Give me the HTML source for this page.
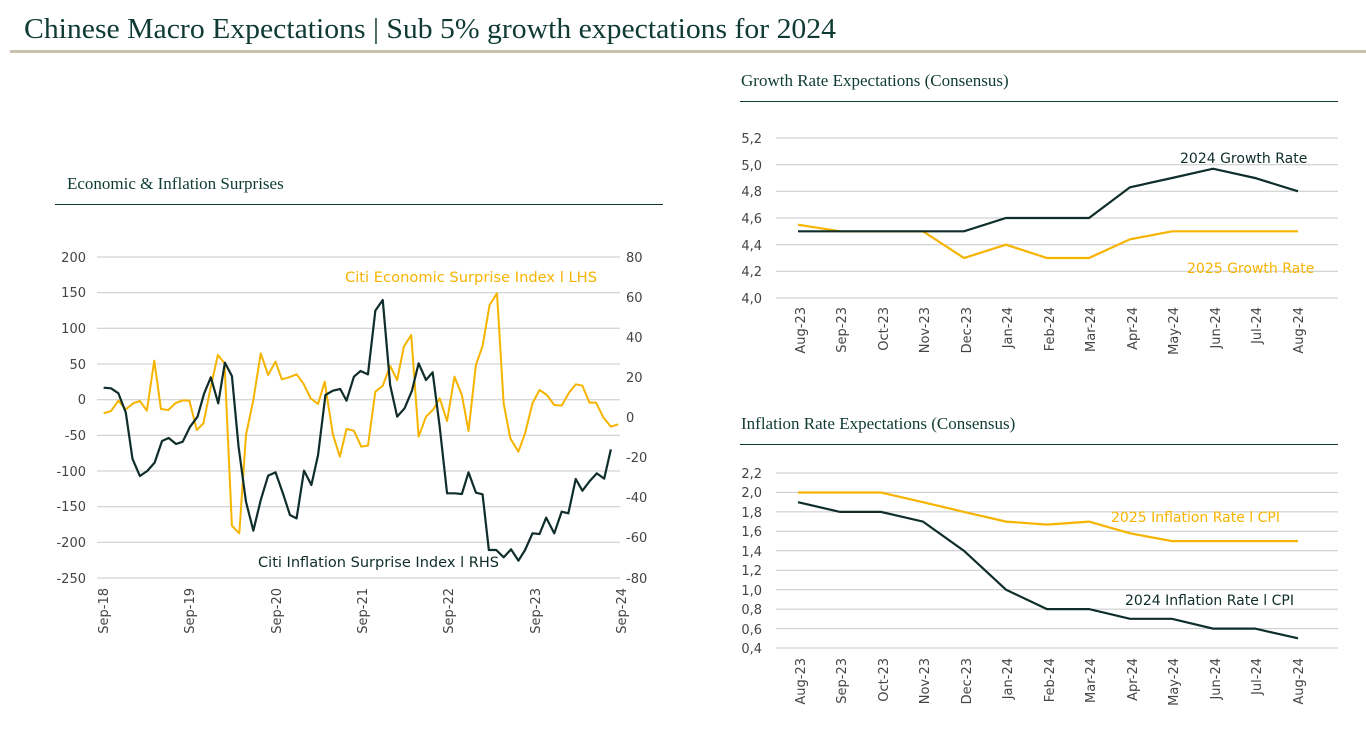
<!DOCTYPE html>
<html><head><meta charset="utf-8"><style>
body{margin:0;background:#fff;width:1366px;height:737px;overflow:hidden}
svg text{font-family:"DejaVu Sans","Liberation Sans",sans-serif}
</style></head><body>
<svg width="1366" height="737" xmlns="http://www.w3.org/2000/svg">
<text x="24" y="38" font-size="28" fill="#0f3b34" style="font-family:'Liberation Serif',serif" textLength="812" lengthAdjust="spacingAndGlyphs">Chinese Macro Expectations | Sub 5% growth expectations for 2024</text>
<rect x="10" y="50" width="1356" height="3" fill="#c9c1ae"/>
<text x="741" y="86" font-size="17" fill="#0f3b34" style="font-family:'Liberation Serif',serif">Growth Rate Expectations (Consensus)</text>
<rect x="740" y="101" width="598" height="1" fill="#0f3b34"/>
<text x="67" y="189" font-size="17" fill="#0f3b34" style="font-family:'Liberation Serif',serif">Economic &amp; Inflation Surprises</text>
<rect x="55" y="204" width="608" height="1" fill="#0f3b34"/>
<text x="741" y="429" font-size="17" fill="#0f3b34" style="font-family:'Liberation Serif',serif">Inflation Rate Expectations (Consensus)</text>
<rect x="740" y="444" width="598" height="1" fill="#0f3b34"/>

<!-- left chart -->
<g stroke="#c8c8c8" stroke-width="1">
<line x1="97" x2="620" y1="257" y2="257"/><line x1="97" x2="620" y1="292.7" y2="292.7"/>
<line x1="97" x2="620" y1="328.3" y2="328.3"/><line x1="97" x2="620" y1="364" y2="364"/>
<line x1="97" x2="620" y1="399.7" y2="399.7"/><line x1="97" x2="620" y1="435.3" y2="435.3"/>
<line x1="97" x2="620" y1="471" y2="471"/><line x1="97" x2="620" y1="506.7" y2="506.7"/>
<line x1="97" x2="620" y1="542.3" y2="542.3"/><line x1="97" x2="620" y1="578" y2="578"/>
</g>
<g font-size="13" fill="#444" text-anchor="end">
<text x="86" y="262">200</text><text x="86" y="297">150</text><text x="86" y="333">100</text>
<text x="86" y="369">50</text><text x="86" y="404">0</text><text x="86" y="440">-50</text>
<text x="86" y="476">-100</text><text x="86" y="511">-150</text><text x="86" y="547">-200</text><text x="86" y="583">-250</text>
</g>
<g font-size="13" fill="#444">
<text x="626" y="262">80</text><text x="626" y="302">60</text><text x="626" y="342">40</text>
<text x="626" y="382">20</text><text x="626" y="422">0</text><text x="626" y="462">-20</text>
<text x="626" y="502">-40</text><text x="626" y="542">-60</text><text x="626" y="583">-80</text>
</g>
<g font-size="13" fill="#444" text-anchor="end">
<text transform="translate(108,588) rotate(-90)">Sep-18</text>
<text transform="translate(194,588) rotate(-90)">Sep-19</text>
<text transform="translate(281,588) rotate(-90)">Sep-20</text>
<text transform="translate(367,588) rotate(-90)">Sep-21</text>
<text transform="translate(453,588) rotate(-90)">Sep-22</text>
<text transform="translate(540,588) rotate(-90)">Sep-23</text>
<text transform="translate(626,588) rotate(-90)">Sep-24</text>
</g>
<g transform="translate(60,240) scale(0.3697,0.33333)" fill="none" stroke-linejoin="round">
<polyline stroke="#f6b400" stroke-width="2" vector-effect="non-scaling-stroke" points="118,520 138,513 158,482 178,508 198,490 216,483 235,512 255,362 273,507 293,510 313,489 333,481 350,482 370,570 388,550 408,440 427,345 445,370 465,857 485,880 503,585 523,480 543,340 563,405 583,365 600,418 620,412 640,403 658,430 678,475 698,492 716,425 738,583 757,650 775,567 795,572 815,620 833,617 853,455 873,437 893,378 912,420 930,320 950,285 970,590 990,530 1010,508 1027,475 1047,543 1067,410 1087,465 1105,573 1125,375 1143,318 1162,195 1182,160 1200,490 1218,595 1240,635 1258,580 1278,490 1297,450 1317,465 1337,495 1357,497 1377,458 1395,433 1413,437 1432,488 1450,488 1470,533 1490,560 1510,553"/>
<polyline stroke="#0f2d2a" stroke-width="2.2" vector-effect="non-scaling-stroke" points="118,443 138,445 158,460 178,518 196,656 216,708 236,693 256,668 276,603 294,594 314,612 332,605 352,560 372,530 390,460 408,412 428,490 446,368 465,408 483,620 503,785 523,872 543,780 563,707 583,697 603,760 622,825 640,835 660,692 680,735 698,645 718,465 738,452 758,447 775,482 795,410 813,393 833,403 853,212 873,180 893,435 912,530 932,505 952,452 970,370 990,420 1008,397 1027,560 1047,760 1067,760 1087,762 1105,697 1125,758 1143,763 1160,930 1180,930 1200,952 1220,928 1240,962 1258,930 1278,880 1297,882 1315,833 1337,880 1357,815 1375,820 1395,717 1413,752 1433,723 1452,700 1472,716 1490,628"/>
</g>
<text x="345" y="282" font-size="14" fill="#f6b400" textLength="252" lengthAdjust="spacingAndGlyphs">Citi Economic Surprise Index l LHS</text>
<text x="258" y="567" font-size="14" fill="#0f2d2a" textLength="241" lengthAdjust="spacingAndGlyphs">Citi Inflation Surprise Index l RHS</text>

<!-- top right chart -->
<g stroke="#c8c8c8" stroke-width="1">
<line x1="776" x2="1338" y1="138" y2="138"/><line x1="776" x2="1338" y1="164.7" y2="164.7"/>
<line x1="776" x2="1338" y1="191.3" y2="191.3"/><line x1="776" x2="1338" y1="218" y2="218"/>
<line x1="776" x2="1338" y1="244.7" y2="244.7"/><line x1="776" x2="1338" y1="271.3" y2="271.3"/>
<line x1="776" x2="1338" y1="298" y2="298"/>
</g>
<g font-size="13" fill="#444" text-anchor="end">
<text x="762" y="143">5,2</text><text x="762" y="170">5,0</text><text x="762" y="196">4,8</text>
<text x="762" y="223">4,6</text><text x="762" y="250">4,4</text><text x="762" y="276">4,2</text><text x="762" y="303">4,0</text>
</g>
<g font-size="13" fill="#444" text-anchor="end">
<text transform="translate(805,307) rotate(-90)">Aug-23</text>
<text transform="translate(846,307) rotate(-90)">Sep-23</text>
<text transform="translate(888,307) rotate(-90)">Oct-23</text>
<text transform="translate(929,307) rotate(-90)">Nov-23</text>
<text transform="translate(971,307) rotate(-90)">Dec-23</text>
<text transform="translate(1012,307) rotate(-90)">Jan-24</text>
<text transform="translate(1054,307) rotate(-90)">Feb-24</text>
<text transform="translate(1095,307) rotate(-90)">Mar-24</text>
<text transform="translate(1137,307) rotate(-90)">Apr-24</text>
<text transform="translate(1178,307) rotate(-90)">May-24</text>
<text transform="translate(1220,307) rotate(-90)">Jun-24</text>
<text transform="translate(1261,307) rotate(-90)">Jul-24</text>
<text transform="translate(1303,307) rotate(-90)">Aug-24</text>
</g>
<polyline fill="none" stroke="#f6b400" stroke-width="2.2" points="798,224.7 840,231.3 881,231.3 923,231.3 964,258 1006,244.7 1047,258 1089,258 1130,239.3 1172,231.3 1213,231.3 1255,231.3 1298,231.3"/>
<polyline fill="none" stroke="#0f2d2a" stroke-width="2.2" points="798,231.3 840,231.3 881,231.3 923,231.3 964,231.3 1006,218 1047,218 1089,218 1130,187.3 1172,178 1213,168.7 1255,178 1298,191.3"/>
<text x="1180" y="163" font-size="14" fill="#0f2d2a">2024 Growth Rate</text>
<text x="1187" y="273" font-size="14" fill="#f6b400">2025 Growth Rate</text>

<!-- bottom right chart -->
<g stroke="#c8c8c8" stroke-width="1">
<line x1="776" x2="1338" y1="473" y2="473"/><line x1="776" x2="1338" y1="492.4" y2="492.4"/>
<line x1="776" x2="1338" y1="511.9" y2="511.9"/><line x1="776" x2="1338" y1="531.3" y2="531.3"/>
<line x1="776" x2="1338" y1="550.8" y2="550.8"/><line x1="776" x2="1338" y1="570.2" y2="570.2"/>
<line x1="776" x2="1338" y1="589.7" y2="589.7"/><line x1="776" x2="1338" y1="609.1" y2="609.1"/>
<line x1="776" x2="1338" y1="628.6" y2="628.6"/><line x1="776" x2="1338" y1="648" y2="648"/>
</g>
<g font-size="13" fill="#444" text-anchor="end">
<text x="762" y="478">2,2</text><text x="762" y="497">2,0</text><text x="762" y="517">1,8</text>
<text x="762" y="536">1,6</text><text x="762" y="556">1,4</text><text x="762" y="575">1,2</text>
<text x="762" y="595">1,0</text><text x="762" y="614">0,8</text><text x="762" y="634">0,6</text><text x="762" y="653">0,4</text>
</g>
<g font-size="13" fill="#444" text-anchor="end">
<text transform="translate(805,658) rotate(-90)">Aug-23</text>
<text transform="translate(846,658) rotate(-90)">Sep-23</text>
<text transform="translate(888,658) rotate(-90)">Oct-23</text>
<text transform="translate(929,658) rotate(-90)">Nov-23</text>
<text transform="translate(971,658) rotate(-90)">Dec-23</text>
<text transform="translate(1012,658) rotate(-90)">Jan-24</text>
<text transform="translate(1054,658) rotate(-90)">Feb-24</text>
<text transform="translate(1095,658) rotate(-90)">Mar-24</text>
<text transform="translate(1137,658) rotate(-90)">Apr-24</text>
<text transform="translate(1178,658) rotate(-90)">May-24</text>
<text transform="translate(1220,658) rotate(-90)">Jun-24</text>
<text transform="translate(1261,658) rotate(-90)">Jul-24</text>
<text transform="translate(1303,658) rotate(-90)">Aug-24</text>
</g>
<polyline fill="none" stroke="#f6b400" stroke-width="2.2" points="798,492.5 840,492.5 881,492.5 923,502.2 964,511.9 1006,521.6 1047,524.6 1089,521.6 1130,533.3 1172,541.1 1213,541.1 1255,541.1 1298,541.1"/>
<polyline fill="none" stroke="#0f2d2a" stroke-width="2.2" points="798,502.2 840,511.9 881,511.9 923,521.6 964,550.8 1006,589.7 1047,609.1 1089,609.1 1130,618.8 1172,618.8 1213,628.6 1255,628.6 1298,638.3"/>
<text x="1111" y="522" font-size="14" fill="#f6b400">2025 Inflation Rate l CPI</text>
<text x="1125" y="605" font-size="14" fill="#0f2d2a">2024 Inflation Rate l CPI</text>
</svg>
</body></html>
